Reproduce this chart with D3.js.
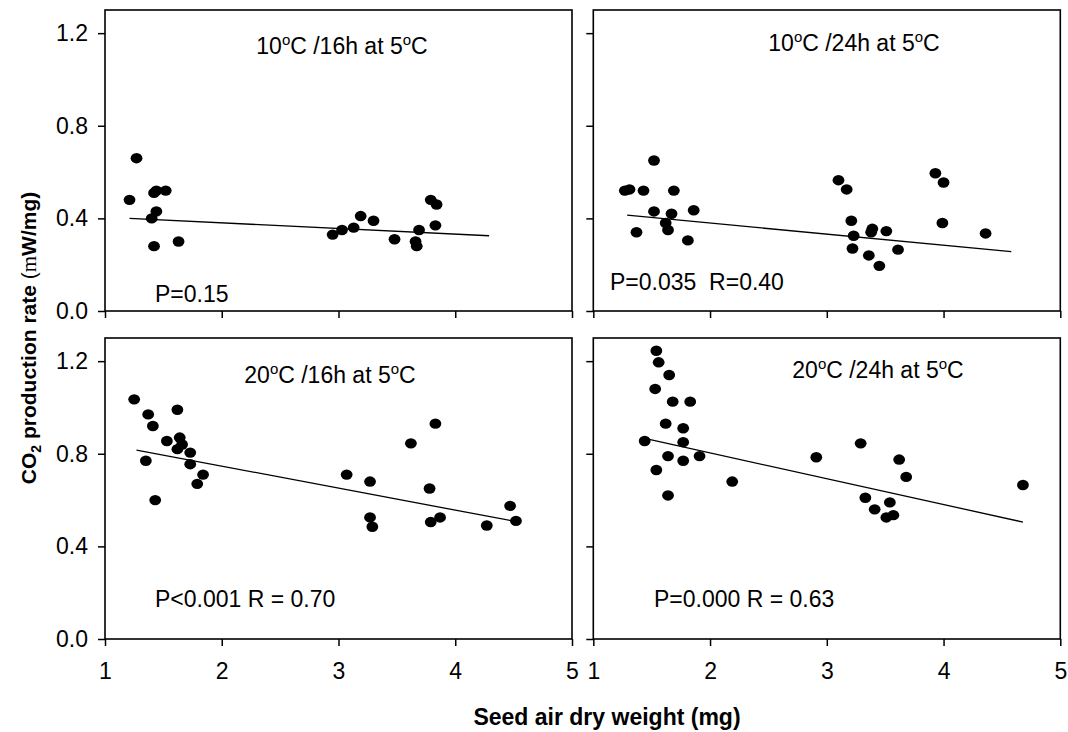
<!DOCTYPE html>
<html>
<head>
<meta charset="utf-8">
<script src="https://cdn.jsdelivr.net/npm/d3@7"></script>
<style>
  html, body { margin: 0; padding: 0; background: #fff; }
  svg { display: block; font-family: "Liberation Sans", Arial, sans-serif; }
</style>
</head>
<body>
<svg id="chart" width="1068" height="732"></svg>
<script>
// Seed weight (mg) vs CO2 production rate (mW/mg), four treatments

// 10°C / 16h at 5°C
const t10h16X = [1.21, 1.27, 1.40, 1.42, 1.44, 1.44, 1.42, 1.52, 1.63,
                 2.95, 3.03, 3.13, 3.19, 3.30, 3.48, 3.66, 3.67, 3.69, 3.79, 3.84, 3.83];
const t10h16Y = [0.48, 0.66, 0.40, 0.51, 0.52, 0.43, 0.28, 0.52, 0.30,
                 0.33, 0.35, 0.36, 0.41, 0.39, 0.31, 0.30, 0.28, 0.35, 0.48, 0.46, 0.37];
const t10h16Fit = [[1.21, 0.40], [4.29, 0.325]];

// 10°C / 24h at 5°C
const t10h24X = [1.27, 1.31, 1.43, 1.52, 1.37, 1.52, 1.67, 1.62, 1.64, 1.69, 1.81, 1.86,
                 3.10, 3.17, 3.21, 3.23, 3.22, 3.36, 3.39, 3.38, 3.45, 3.51, 3.61, 3.93, 4.00, 3.99, 4.36];
const t10h24Y = [0.52, 0.525, 0.52, 0.65, 0.34, 0.43, 0.42, 0.38, 0.35, 0.52, 0.305, 0.435,
                 0.565, 0.525, 0.39, 0.325, 0.27, 0.24, 0.355, 0.34, 0.195, 0.345, 0.265, 0.595, 0.555, 0.38, 0.335];
const t10h24Fit = [[1.29, 0.414], [4.58, 0.256]];

// 20°C / 16h at 5°C
const t20h16X = [1.25, 1.37, 1.41, 1.35, 1.43, 1.53, 1.62, 1.64, 1.62, 1.66, 1.73, 1.73, 1.79, 1.84,
                 3.07, 3.27, 3.27, 3.29, 3.62, 3.83, 3.78, 3.79, 3.87, 4.27, 4.47, 4.52];
const t20h16Y = [1.035, 0.97, 0.92, 0.77, 0.60, 0.855, 0.99, 0.87, 0.82, 0.84, 0.805, 0.755, 0.67, 0.71,
                 0.71, 0.68, 0.525, 0.485, 0.845, 0.93, 0.65, 0.505, 0.525, 0.49, 0.575, 0.51];
const t20h16Fit = [[1.27, 0.816], [4.48, 0.511]];

// 20°C / 24h at 5°C
const t20h24X = [1.54, 1.56, 1.65, 1.53, 1.68, 1.83, 1.62, 1.77, 1.44, 1.77, 1.64, 1.77, 1.91, 1.54, 1.64,
                 2.19, 2.91, 3.29, 3.62, 3.68, 3.33, 3.41, 3.54, 3.51, 3.57, 4.68];
const t20h24Y = [1.245, 1.195, 1.14, 1.08, 1.025, 1.025, 0.93, 0.91, 0.855, 0.85, 0.79, 0.77, 0.79, 0.73, 0.62,
                 0.68, 0.785, 0.845, 0.775, 0.70, 0.61, 0.56, 0.59, 0.525, 0.535, 0.665];
const t20h24Fit = [[1.44, 0.866], [4.68, 0.505]];

const titleTemps = ["10", "10", "20", "20"];
const titleHours = ["16h", "24h", "16h", "24h"];
const statLabels = ["P=0.15", "P=0.035  R=0.40", "P<0.001 R = 0.70", "P=0.000 R = 0.63"];

const xTicks = [1, 2, 3, 4, 5];
const yTicks = [0.0, 0.4, 0.8, 1.2];

const svg = d3.select("#chart");

const panelW = 467, panelH = 301;
const panels = [
  { x0: 105,   y0: 10,  X: t10h16X, Y: t10h16Y, fit: t10h16Fit, yLabels: true,  xLabels: false,
    title: [342, 54],  stat: [155, 302] },
  { x0: 593.3, y0: 10,  X: t10h24X, Y: t10h24Y, fit: t10h24Fit, yLabels: false, xLabels: false,
    title: [854, 51],  stat: [610, 290] },
  { x0: 105,   y0: 338, X: t20h16X, Y: t20h16Y, fit: t20h16Fit, yLabels: true,  xLabels: true,
    title: [330, 383], stat: [155, 607] },
  { x0: 593.3, y0: 338, X: t20h24X, Y: t20h24Y, fit: t20h24Fit, yLabels: false, xLabels: true,
    title: [878, 378], stat: [654, 607] }
];

const x = d3.scaleLinear().domain([1, 5]).range([0, panelW]);
const y = d3.scaleLinear().domain([0, 1.3]).range([panelH, 0]);

panels.forEach((p, i) => {
  const g = svg.append("g").attr("transform", `translate(${p.x0},${p.y0})`);

  // Y axis
  const yAxis = d3.axisLeft(y).tickValues(yTicks).tickSize(7).tickPadding(10)
    .tickFormat(p.yLabels ? d3.format(".1f") : "");
  const ya = g.append("g").call(yAxis);
  ya.select(".domain").remove();

  // X axis
  const xAxis = d3.axisBottom(x).tickValues(xTicks).tickSize(7).tickPadding(17)
    .tickFormat(p.xLabels ? d3.format("d") : "");
  const xa = g.append("g").attr("transform", `translate(0,${panelH})`).call(xAxis);
  xa.select(".domain").remove();

  [ya, xa].forEach(a => {
    a.selectAll(".tick line").attr("stroke", "#000").attr("stroke-width", 1.5);
    a.selectAll(".tick text").attr("fill", "#000").style("font-size", "23px")
      .style("font-family", '"Liberation Sans", Arial, sans-serif');
  });

  // Frame
  g.append("rect").attr("x", 0).attr("y", 0).attr("width", panelW).attr("height", panelH)
    .attr("fill", "none").attr("stroke", "#000").attr("stroke-width", 1.6);

  // Regression line
  g.append("path")
    .datum(p.fit)
    .attr("d", d3.line().x(d => x(d[0])).y(d => y(d[1])))
    .attr("fill", "none").attr("stroke", "#000").attr("stroke-width", 1.3);

  // Points
  g.selectAll("ellipse.pt").data(p.X.map((v, k) => [v, p.Y[k]])).join("ellipse")
    .attr("class", "pt")
    .attr("cx", d => x(d[0])).attr("cy", d => y(d[1]))
    .attr("rx", 5.9).attr("ry", 5.2).attr("fill", "#000");

  // Panel title with superscript degree marks
  const t = svg.append("text").attr("x", p.title[0]).attr("y", p.title[1])
    .attr("text-anchor", "middle").style("font-size", "23px").attr("fill", "#000");
  t.append("tspan").text(titleTemps[i]);
  t.append("tspan").attr("dy", -9).style("font-size", "15px").text("o");
  t.append("tspan").attr("dy", 9).text(`C /${titleHours[i]} at 5`);
  t.append("tspan").attr("dy", -9).style("font-size", "15px").text("o");
  t.append("tspan").attr("dy", 9).text("C");

  // Statistics annotation
  svg.append("text").attr("x", p.stat[0]).attr("y", p.stat[1])
    .style("font-size", "23px").style("white-space", "pre").attr("fill", "#000")
    .attr("xml:space", "preserve")
    .text(statLabels[i]);
});

// Axis titles
svg.append("text")
  .attr("x", 607).attr("y", 725).attr("text-anchor", "middle")
  .style("font-size", "23px").style("font-weight", "bold")
  .text("Seed air dry weight (mg)");

const yt = svg.append("text")
  .attr("transform", "translate(36,338) rotate(-90)")
  .attr("text-anchor", "middle").style("font-size", "21px").style("font-weight", "bold");
yt.append("tspan").text("CO");
yt.append("tspan").attr("dy", 5).style("font-size", "14px").text("2");
yt.append("tspan").attr("dy", -5).text(" production rate ");
yt.append("tspan").style("font-weight", "normal").text("(");
yt.append("tspan").style("font-weight", "normal")
  .style("font-family", '"Liberation Serif", "Times New Roman", serif').text("m");
yt.append("tspan").text("W/mg)");
</script>
</body>
</html>
